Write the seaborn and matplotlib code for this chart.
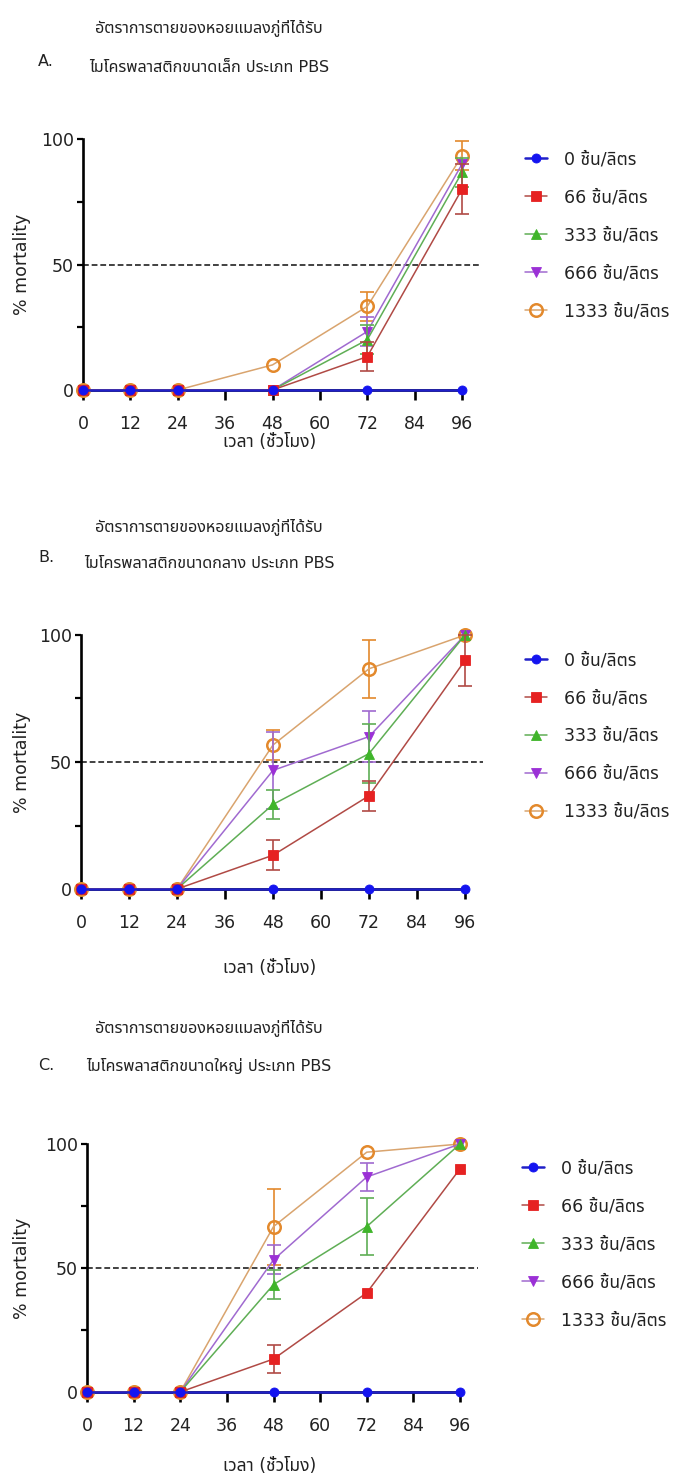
import numpy as np
import pandas as pd
import matplotlib
matplotlib.use("Agg")
import matplotlib.pyplot as plt
import seaborn as sns
from matplotlib import font_manager as fm
from matplotlib.ft2font import FT2Font

# ---------------- data ----------------
time_h = [0, 12, 24, 48, 72, 96]
x_ticks = [0, 12, 24, 36, 48, 60, 72, 84, 96]
y_ticks = [0, 50, 100]
y_minor = [25, 75]

conc_labels = ["0 ชิ้น/ลิตร", "66 ชิ้น/ลิตร", "333 ชิ้น/ลิตร", "666 ชิ้น/ลิตร", "1333 ชิ้น/ลิตร"]

title_top = "อัตราการตายของหอยแมลงภู่ที่ได้รับ"
titles_sub = ["ไมโครพลาสติกขนาดเล็ก ประเภท PBS",
              "ไมโครพลาสติกขนาดกลาง ประเภท PBS",
              "ไมโครพลาสติกขนาดใหญ่ ประเภท PBS"]
panel_tags = ["A.", "B.", "C."]
x_label = "เวลา (ชั่วโมง)"
y_label = "% mortality"

# Panel A: small particles
a_0 = [0, 0, 0, 0, 0, 0]
a_66 = [0, 0, 0, 0, 13.3, 80]
a_333 = [0, 0, 0, 0, 20, 86.7]
a_666 = [0, 0, 0, 0, 23.3, 90]
a_1333 = [0, 0, 0, 10, 33.3, 93.3]
a_66_sd = [0, 0, 0, 0, 5.8, 10]
a_333_sd = [0, 0, 0, 0, 5.8, 5.8]
a_666_sd = [0, 0, 0, 0, 5.8, 0]
a_1333_sd = [0, 0, 0, 0, 5.8, 5.8]

# Panel B: medium particles
b_0 = [0, 0, 0, 0, 0, 0]
b_66 = [0, 0, 0, 13.3, 36.7, 90]
b_333 = [0, 0, 0, 33.3, 53.3, 100]
b_666 = [0, 0, 0, 46.7, 60, 100]
b_1333 = [0, 0, 0, 56.7, 86.7, 100]
b_66_sd = [0, 0, 0, 5.8, 5.8, 10]
b_333_sd = [0, 0, 0, 5.8, 11.5, 0]
b_666_sd = [0, 0, 0, 15.3, 10, 0]
b_1333_sd = [0, 0, 0, 5.8, 11.5, 0]

# Panel C: large particles
c_0 = [0, 0, 0, 0, 0, 0]
c_66 = [0, 0, 0, 13.3, 40, 90]
c_333 = [0, 0, 0, 43.3, 66.7, 100]
c_666 = [0, 0, 0, 53.3, 86.7, 100]
c_1333 = [0, 0, 0, 66.7, 96.7, 100]
c_66_sd = [0, 0, 0, 5.8, 0, 0]
c_333_sd = [0, 0, 0, 5.8, 11.5, 0]
c_666_sd = [0, 0, 0, 5.8, 5.8, 0]
c_1333_sd = [0, 0, 0, 15.3, 0, 0]

panels = [
    ([a_0, a_66, a_333, a_666, a_1333], [a_0, a_66_sd, a_333_sd, a_666_sd, a_1333_sd]),
    ([b_0, b_66, b_333, b_666, b_1333], [b_0, b_66_sd, b_333_sd, b_666_sd, b_1333_sd]),
    ([c_0, c_66, c_333, c_666, c_1333], [c_0, c_66_sd, c_333_sd, c_666_sd, c_1333_sd]),
]

# ---------------- styles ----------------
marker_colors = ["#1414f0", "#e62222", "#3fb52a", "#9b30d6", "#e3892c"]
line_colors = ["#2020c8", "#b04a45", "#5fae55", "#a06ad0", "#d9a46e"]
markers = ["o", "s", "^", "v", "o"]
marker_sizes = [6.5, 6.5, 7.5, 7.5, 9]
filled = [True, True, True, True, False]


def find_thai_family():
    preferred = ["Tahoma", "Leelawadee UI", "Leelawadee", "Noto Sans Thai", "Noto Sans Thai UI",
                 "Noto Sans Thai Looped", "Sarabun", "Loma", "Garuda", "Waree", "Kinnari",
                 "Norasi", "Umpush", "Laksaman", "Sawasdee", "Purisa", "TlwgTypist"]
    found = {}
    for f in fm.fontManager.ttflist:
        if f.name in found:
            continue
        try:
            cmap = FT2Font(f.fname).get_charmap()
        except Exception:
            continue
        if 0x0E2D in cmap and 0x0E34 in cmap and 0x0E49 in cmap:
            found[f.name] = f.fname
    for p in preferred:
        if p in found:
            return p
    return next(iter(found), None)


sns.set_theme(style="ticks")
thai = find_thai_family()
families = ["DejaVu Sans"] + ([thai] if thai else [])
plt.rcParams["font.family"] = families
plt.rcParams["axes.unicode_minus"] = False

W, H = 680, 1479
fig = plt.figure(figsize=(W / 100, H / 100), dpi=100)


def fx(px):
    return px / W


def fy(py):
    return 1 - py / H


# axes boxes in pixels: (x at t=0, y at 100 %, y at 0 %, right edge, x at t=96)
boxes = [
    (83, 139, 390, 480, 462),
    (81, 635, 889, 483, 465),
    (87, 1144, 1392, 478, 460),
]
title_y = [(28, 67, 62), (527, 563, 558), (1028, 1066, 1066)]
legend_y = [(158, 313), (658, 814), (1167, 1322)]
legend_x = [525, 525, 522]
xlabel_y = [442, 968, 1466]

for i, ((means, sds), box) in enumerate(zip(panels, boxes)):
    x0, ytop, ybot, xr, x96 = box
    ax = fig.add_axes([fx(x0), fy(ybot), fx(xr - x0), (ybot - ytop) / H])
    px_per_h = (x96 - x0) / 96.0
    ax.set_xlim(0, (xr - x0) / px_per_h)
    ax.set_ylim(0, 100)

    ax.axhline(50, color="#333333", lw=1.3, ls=(0, (3.2, 1.6)), zorder=1)

    order = [4, 3, 2, 1, 0]
    for k in order:
        df = pd.DataFrame({"time": time_h, "mortality": means[k]})
        z = 10 if k == 0 else 3 + (4 - k)
        sns.lineplot(data=df, x="time", y="mortality", ax=ax, errorbar=None,
                     color=line_colors[k], lw=1.8 if k == 0 else 1.1,
                     marker=markers[k], markersize=marker_sizes[k],
                     markerfacecolor=marker_colors[k] if filled[k] else "none",
                     markeredgecolor=marker_colors[k],
                     markeredgewidth=1.8 if not filled[k] else 0.6,
                     label=conc_labels[k], clip_on=False, zorder=z)
        sd = np.asarray(sds[k], dtype=float)
        mask = sd > 0
        if mask.any():
            ax.errorbar(np.asarray(time_h)[mask], np.asarray(means[k])[mask], yerr=sd[mask],
                        fmt="none", ecolor=line_colors[k] if k != 4 else marker_colors[k],
                        elinewidth=1.2, capsize=5, capthick=1.2, zorder=z - 0.5, clip_on=False)

    # drop the automatic per-axes legend; a figure legend sits to the right
    handles, labels = ax.get_legend_handles_labels()
    if ax.get_legend() is not None:
        ax.get_legend().remove()

    sns.despine(ax=ax)
    ax.spines["left"].set_bounds(0, 100)
    ax.spines["bottom"].set_bounds(0, 96)
    for sp in ("left", "bottom"):
        ax.spines[sp].set_linewidth(1.9)
        ax.spines[sp].set_color("black")
    ax.set_xticks(x_ticks)
    ax.set_yticks(y_ticks)
    ax.set_yticks(y_minor, minor=True)
    ax.tick_params(axis="x", length=7, width=1.9, pad=11, labelsize=12.5, colors="black",
                   labelcolor="#222222")
    ax.tick_params(axis="y", which="both", length=4.5, width=1.6, pad=2, labelsize=12.5,
                   colors="black", labelcolor="#222222")
    ax.set_xlabel("")
    ax.set_ylabel("")
    ax.grid(False)
    ax.patch.set_alpha(0)

    lut = dict(zip(labels, handles))
    hs = [lut[lab] for lab in conc_labels]
    y1, y2 = legend_y[i]
    leg = fig.legend(hs, conc_labels, loc="center left",
                     bbox_to_anchor=(fx(legend_x[i]), fy((y1 + y2) / 2)),
                     bbox_transform=fig.transFigure, frameon=False, fontsize=12.5,
                     handlelength=1.25, handletextpad=1.0, labelspacing=1.15,
                     borderpad=0, borderaxespad=0)
    for t in leg.get_texts():
        t.set_color("#222222")

    # titles and axis labels
    t1, t2, tag_y = title_y[i]
    cx = fx(209)
    fig.text(cx, fy(t1), title_top, ha="center", va="center", fontsize=11.6, color="#222222")
    fig.text(cx, fy(t2), titles_sub[i], ha="center", va="center", fontsize=11.6, color="#222222")
    fig.text(fx(38), fy(tag_y), panel_tags[i], ha="left", va="center", fontsize=11.5, color="#222222")
    fig.text(fx(22), fy((ytop + ybot) / 2), y_label, rotation=90, ha="center", va="center",
             fontsize=12.5, color="#222222")
    fig.text(fx(270), fy(xlabel_y[i]), x_label, ha="center", va="center",
             fontsize=12.5, color="#222222")

fig.savefig("out.png", dpi=100, facecolor="white")
